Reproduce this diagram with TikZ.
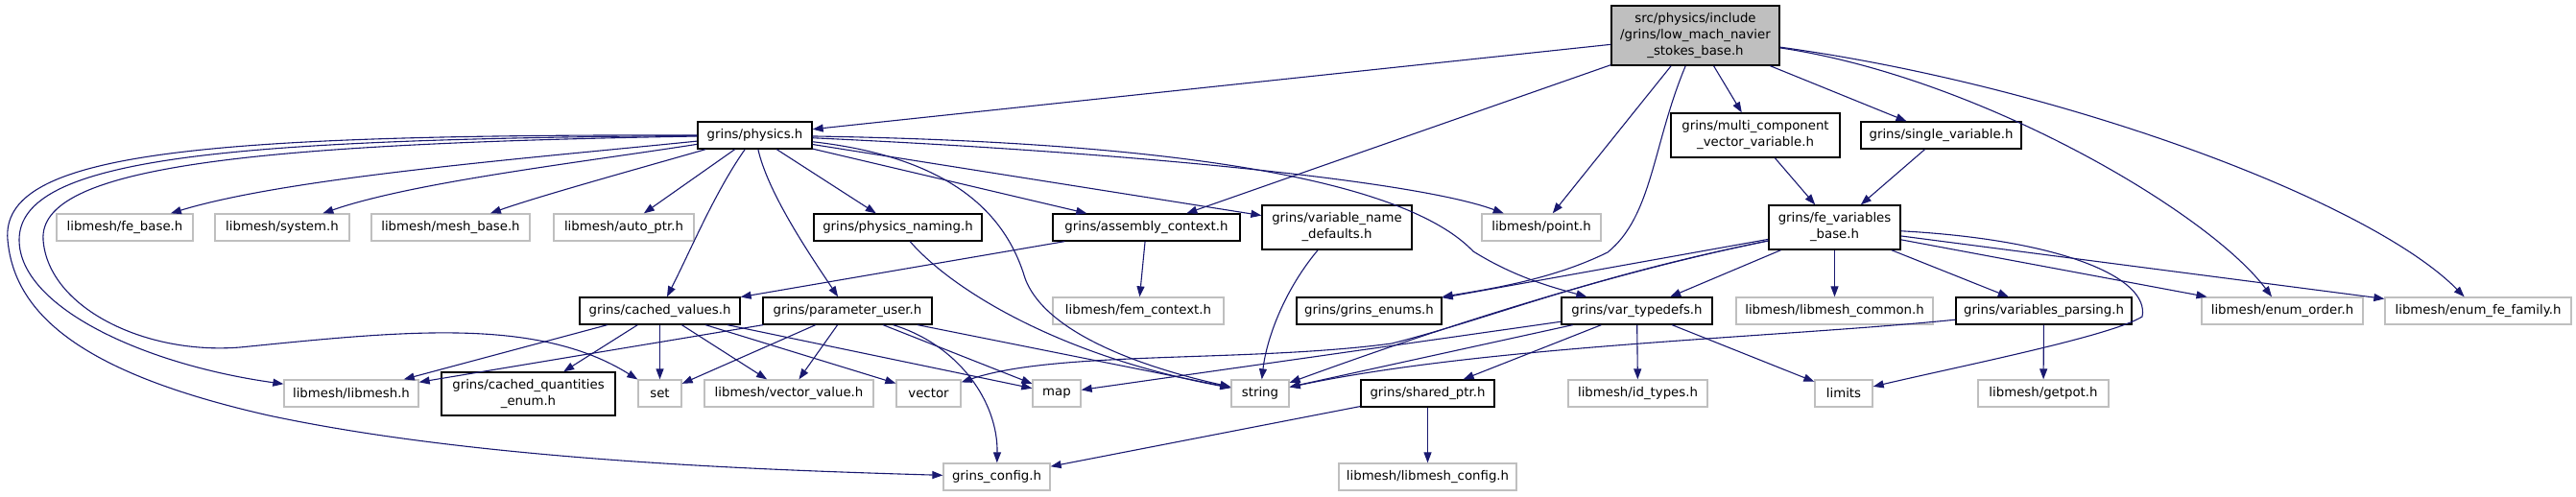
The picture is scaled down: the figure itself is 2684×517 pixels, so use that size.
\documentclass[tikz,border=0pt]{standalone}
\usepackage{fontspec}
\setmainfont{DejaVu Sans}
\usepackage{tikz}
\usetikzlibrary{arrows.meta,positioning}
\definecolor{edgeblue}{HTML}{191970}
\definecolor{grey75}{HTML}{BFBFBF}

\begin{document}
\begin{tikzpicture}[x=1pt,y=-1pt,font=\fontsize{13.3}{17}\selectfont,
  box/.style={rectangle,inner sep=0pt,minimum height=28pt,line width=1.3pt,align=center},
  hdr/.style={box,draw=black},
  ext/.style={box,draw=grey75},
  rootbox/.style={box,draw=black,fill=grey75},
  dep/.style={-{Triangle[length=11pt,width=8pt]},draw=edgeblue,line width=1.1pt}]
\useasboundingbox (0,0) rectangle (2684,517);
% the file itself
\node[rootbox,minimum width=175pt,minimum height=62pt] (root) at (1766.5,37) {src/physics/include\\/grins/low\_mach\_navier\\\_stokes\_base.h};
% first level
\node[hdr,minimum width=119pt] (physics) at (786.5,141) {grins/physics.h};
\node[hdr,minimum width=176pt,minimum height=46pt] (multi) at (1829,141) {grins/multi\_component\\\_vector\_variable.h};
\node[hdr,minimum width=167pt] (single) at (2022.5,141) {grins/single\_variable.h};
% second level
\node[ext,minimum width=142pt] (febase) at (130,237) {libmesh/fe\_base.h};
\node[ext,minimum width=140pt] (system) at (294,237) {libmesh/system.h};
\node[ext,minimum width=165pt] (meshbase) at (469.5,237) {libmesh/mesh\_base.h};
\node[ext,minimum width=146pt] (autoptr) at (650,237) {libmesh/auto\_ptr.h};
\node[hdr,minimum width=175pt] (naming) at (935.5,237) {grins/physics\_naming.h};
\node[hdr,minimum width=195pt] (asm) at (1194.5,237) {grins/assembly\_context.h};
\node[hdr,minimum width=156pt,minimum height=46pt] (vardef) at (1393,237) {grins/variable\_name\\\_defaults.h};
\node[ext,minimum width=124pt] (point) at (1606,237) {libmesh/point.h};
\node[hdr,minimum width=137pt,minimum height=46pt] (fevars) at (1911.5,237) {grins/fe\_variables\\\_base.h};
% third level
\node[hdr,minimum width=167pt] (cached) at (687.5,324) {grins/cached\_values.h};
\node[hdr,minimum width=176pt] (param) at (883,324) {grins/parameter\_user.h};
\node[ext,minimum width=178pt] (fem) at (1186,324) {libmesh/fem\_context.h};
\node[hdr,minimum width=151pt] (enums) at (1426.5,324) {grins/grins\_enums.h};
\node[hdr,minimum width=157pt] (typedefs) at (1705.5,324) {grins/var\_typedefs.h};
\node[ext,minimum width=205pt] (common) at (1911.5,324) {libmesh/libmesh\_common.h};
\node[hdr,minimum width=183pt] (parsing) at (2129.5,324) {grins/variables\_parsing.h};
\node[ext,minimum width=168pt] (order) at (2378,324) {libmesh/enum\_order.h};
\node[ext,minimum width=194pt] (family) at (2582,324) {libmesh/enum\_fe\_family.h};
% fourth level
\node[ext,minimum width=140pt] (libmesh) at (366,410) {libmesh/libmesh.h};
\node[hdr,minimum width=181pt,minimum height=45pt] (cqe) at (550.5,410.5) {grins/cached\_quantities\\\_enum.h};
\node[ext,minimum width=45pt] (set) at (687.5,410) {set};
\node[ext,minimum width=176pt] (vvalue) at (822,410) {libmesh/vector\_value.h};
\node[ext,minimum width=67pt] (vector) at (967.5,410) {vector};
\node[ext,minimum width=50pt] (map) at (1101,410) {map};
\node[ext,minimum width=60pt] (string) at (1313,410) {string};
\node[hdr,minimum width=139pt] (shared) at (1487.5,410) {grins/shared\_ptr.h};
\node[ext,minimum width=145pt] (idtypes) at (1706.5,410) {libmesh/id\_types.h};
\node[ext,minimum width=60pt] (limits) at (1921,410) {limits};
\node[ext,minimum width=136pt] (getpot) at (2129,410) {libmesh/getpot.h};
% last level
\node[ext,minimum width=111pt] (config) at (1038.5,497) {grins\_config.h};
\node[ext,minimum width=185pt] (lmconfig) at (1487.5,497) {libmesh/libmesh\_config.h};

% edges of the file
\draw[dep] (root) -- (physics);
\draw[dep] (root) -- (asm);
\draw[dep] (root) -- (point);
\draw[dep] (root.252) .. controls (1722,150) and (1722,225) .. (1675,263) .. controls (1620,290) and (1560,300) .. (enums.north east);
\draw[dep] (root) -- (multi);
\draw[dep] (root) -- (single);
\draw[dep] (root) .. controls (2060,80) and (2300,220) .. (order);
\draw[dep] (root) .. controls (2150,90) and (2470,210) .. (family);
% physics.h
\draw[dep] (physics) .. controls (550,165) and (300,185) .. (febase);
\draw[dep] (physics) .. controls (600,170) and (430,190) .. (system);
\draw[dep] (physics) .. controls (650,180) and (560,205) .. (meshbase);
\draw[dep] (physics) -- (autoptr);
\draw[dep] (physics) .. controls (745,200) and (720,260) .. (cached);
\draw[dep] (physics) .. controls (800,200) and (840,260) .. (param);
\draw[dep] (physics) -- (naming);
\draw[dep] (physics) -- (asm);
\draw[dep] (physics) -- (vardef);
\draw[dep] (physics) .. controls (1200,160) and (1480,190) .. (point);
\draw[dep] (physics) .. controls (1350,150) and (1490,215) .. (1535,262) .. controls (1580,290) and (1620,300) .. (typedefs);
\draw[dep] (physics) .. controls (1000,165) and (1050,230) .. (1068,290) .. controls (1090,350) and (1200,385) .. (string);
\draw[dep] (physics) .. controls (250,150) and (40,175) .. (45,250) .. controls (50,320) and (150,370) .. (250,362) .. controls (420,345) and (560,330) .. (set);
\draw[dep] (physics) .. controls (230,145) and (20,165) .. (20,250) .. controls (20,320) and (150,380) .. (libmesh);
\draw[dep] (physics) .. controls (200,140) and (0,160) .. (8,250) .. controls (15,330) and (90,390) .. (280,433) .. controls (500,480) and (800,490) .. (config);
% cached_values.h
\draw[dep] (cached) -- (libmesh);
\draw[dep] (cached) -- (cqe);
\draw[dep] (cached) -- (set);
\draw[dep] (cached) -- (vvalue);
\draw[dep] (cached) -- (vector);
\draw[dep] (cached) -- (map);
% parameter_user.h
\draw[dep] (param) -- (libmesh);
\draw[dep] (param) -- (set);
\draw[dep] (param) -- (vvalue);
\draw[dep] (param) -- (map);
\draw[dep] (param) -- (string);
\draw[dep] (param) .. controls (1000,360) and (1040,420) .. (config);
% assembly_context.h
\draw[dep] (asm) -- (cached);
\draw[dep] (asm) -- (fem);
% naming and defaults
\draw[dep] (naming) .. controls (990,300) and (1100,370) .. (string);
\draw[dep] (vardef) .. controls (1340,300) and (1320,350) .. (string);
% fe_variables_base.h
\draw[dep] (multi) -- (fevars);
\draw[dep] (single) -- (fevars);
\draw[dep] (fevars) -- (enums);
\draw[dep] (fevars) -- (typedefs);
\draw[dep] (fevars) -- (common);
\draw[dep] (fevars) -- (parsing);
\draw[dep] (fevars) -- (order);
\draw[dep] (fevars) -- (family);
\draw[dep] (fevars) .. controls (1650,290) and (1450,360) .. (string);
\draw[dep] (fevars) .. controls (1650,290) and (1560,330) .. (1450,358) .. controls (1300,378) and (1100,365) .. (vector);
\draw[dep] (fevars) .. controls (2150,250) and (2240,290) .. (2232,330) .. controls (2200,350) and (2050,380) .. (limits);
% var_typedefs.h
\draw[dep] (typedefs) -- (string);
\draw[dep] (typedefs) -- (map);
\draw[dep] (typedefs) -- (shared);
\draw[dep] (typedefs) -- (idtypes);
\draw[dep] (typedefs) -- (limits);
% variables_parsing.h
\draw[dep] (parsing) .. controls (1850,352) and (1550,360) .. (string);
\draw[dep] (parsing) -- (getpot);
% shared_ptr.h
\draw[dep] (shared) -- (config);
\draw[dep] (shared) -- (lmconfig);
\end{tikzpicture}
\end{document}
